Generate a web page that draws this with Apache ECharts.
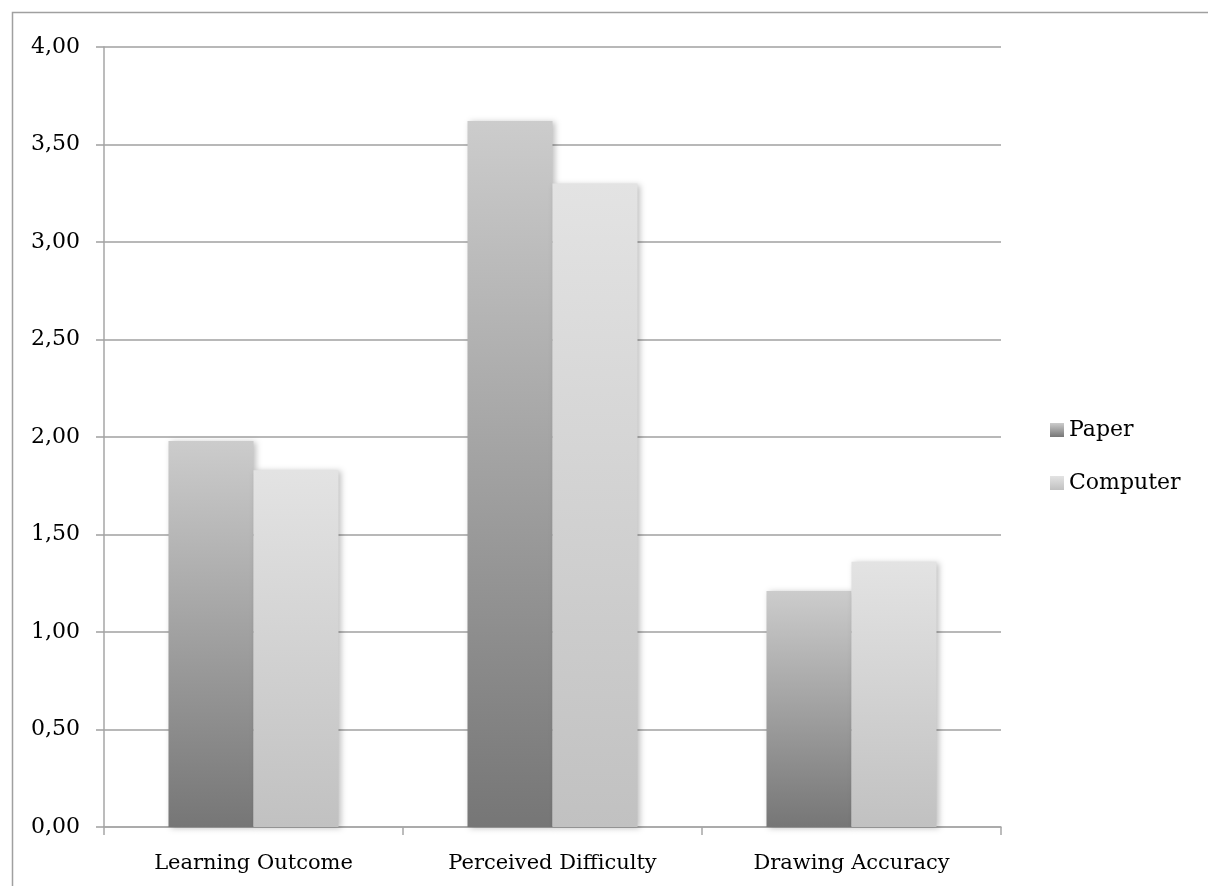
<!DOCTYPE html>
<html>
<head>
<meta charset="utf-8">
<script src="https://cdn.jsdelivr.net/npm/echarts@6/dist/echarts.min.js"></script>
<style>
  html, body { margin: 0; padding: 0; background: #fff; }
  #chart { width: 1208px; height: 886px; }
</style>
</head>
<body>
<div id="chart"></div>
<script>
// Chart data
const categories = ['Learning Outcome', 'Perceived Difficulty', 'Drawing Accuracy'];
const paperValues = [1.98, 3.62, 1.21];
const computerValues = [1.83, 3.30, 1.36];
const seriesNames = ['Paper', 'Computer'];

const FONT = '"DejaVu Serif", serif';

function vGradient(top, bottom) {
  return new echarts.graphic.LinearGradient(0, 0, 0, 1, [
    { offset: 0, color: top },
    { offset: 1, color: bottom }
  ]);
}

const chart = echarts.init(document.getElementById('chart'), null, { renderer: 'canvas' });

const barShadow = {
  shadowBlur: 6,
  shadowColor: 'rgba(0,0,0,0.25)',
  shadowOffsetX: 2,
  shadowOffsetY: 1
};

chart.setOption({
  animation: false,
  backgroundColor: '#ffffff',
  graphic: [{
    type: 'rect',
    shape: { x: 12.5, y: 12.5, width: 1300, height: 1000 },
    style: { fill: 'none', stroke: '#a0a0a0', lineWidth: 1.5 },
    silent: true,
    z: -1
  }],
  grid: { left: 104, right: 207, top: 47, bottom: 59, containLabel: false },
  legend: {
    orient: 'vertical',
    left: 1050,
    top: 418,
    padding: 0,
    itemWidth: 14,
    itemHeight: 14,
    itemGap: 29,
    icon: 'rect',
    textStyle: { fontFamily: FONT, fontSize: 22, lineHeight: 24, color: '#000' },
    data: seriesNames
  },
  xAxis: {
    type: 'category',
    data: categories,
    axisLine: { lineStyle: { color: '#a6a6a6', width: 1.5 } },
    axisTick: { show: true, length: 8, lineStyle: { color: '#a6a6a6', width: 1.5 } },
    axisLabel: { fontFamily: FONT, fontSize: 21, color: '#000', margin: 26 }
  },
  yAxis: {
    type: 'value',
    min: 0,
    max: 4,
    interval: 0.5,
    axisLine: { show: true, lineStyle: { color: '#a6a6a6', width: 1.5 } },
    axisTick: { show: true, inside: false, length: 8, lineStyle: { color: '#a0a0a0', width: 1.5 } },
    splitLine: { lineStyle: { color: '#a0a0a0', width: 1.5 } },
    axisLabel: {
      fontFamily: FONT, fontSize: 22, color: '#000', margin: 24,
      formatter: v => v.toFixed(2).replace('.', ',')
    }
  },
  series: [
    {
      name: seriesNames[0],
      type: 'bar',
      data: paperValues,
      barWidth: 85,
      barGap: '0%',
      itemStyle: Object.assign({ color: vGradient('#cccccc', '#767676') }, barShadow)
    },
    {
      name: seriesNames[1],
      type: 'bar',
      data: computerValues,
      barWidth: 85,
      itemStyle: Object.assign({ color: vGradient('#e3e3e3', '#c1c1c1') }, barShadow)
    }
  ]
});
</script>
</body>
</html>
